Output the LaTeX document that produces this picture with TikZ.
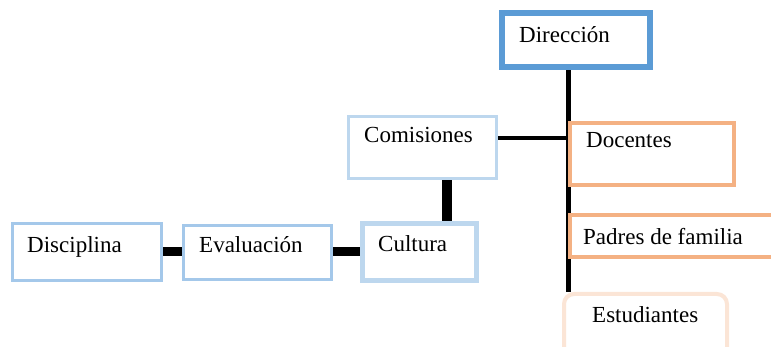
\documentclass[tikz,border=0pt]{standalone}
\usepackage{fontspec}
\setmainfont{Liberation Serif}
\usetikzlibrary{backgrounds}
\definecolor{dirblue}{HTML}{5B9BD5}
\definecolor{midblue}{HTML}{A4C8EA}
\definecolor{paleblue}{HTML}{BDD7EE}
\definecolor{orng}{HTML}{F4B183}
\definecolor{paleorng}{HTML}{FBE5D6}
\tikzset{
  box/.style={draw, fill=white, rectangle, inner sep=0pt},
  lbl/.style={anchor=base west, inner sep=0pt, font=\fontsize{23}{27}\selectfont},
  conn/.style={draw=black, line cap=butt},
}
\begin{document}
\begin{tikzpicture}[x=1pt,y=-1pt]
\useasboundingbox (0,0) rectangle (771,347);
% boxes
\node[box, draw=dirblue, line width=6pt, minimum width=148pt, minimum height=54pt] (dir) at (576,40) {};
\node[box, draw=orng, line width=4pt, minimum width=164pt, minimum height=62pt] (doc) at (652,154) {};
\node[box, draw=orng, line width=4pt, minimum width=220pt, minimum height=42pt] (pad) at (680,236) {};
\node[box, draw=paleorng, line width=4pt, rounded corners=10pt, minimum width=163pt, minimum height=66pt] (est) at (645.5,327) {};
\node[box, draw=paleblue, line width=3pt, minimum width=148pt, minimum height=62pt] (com) at (422.5,147.5) {};
\node[box, draw=midblue, line width=3pt, minimum width=149pt, minimum height=57pt] (dis) at (87,252.5) {};
\node[box, draw=midblue, line width=3pt, minimum width=148pt, minimum height=54pt] (eva) at (257.5,252.5) {};
\node[box, draw=paleblue, line width=5pt, minimum width=114pt, minimum height=57pt] (cul) at (419.5,252) {};
% texts
\node[lbl] (tdir) at (519,43) {Dirección};
\node[lbl] (tdoc) at (586,148) {Docentes};
\node[lbl] (tpad) at (583,245) {Padres de familia};
\node[lbl] (test) at (592,323) {Estudiantes};
\node[lbl] (tcom) at (364,143) {Comisiones};
\node[lbl] (tdis) at (27,253) {Disciplina};
\node[lbl] (teva) at (199,253) {Evaluación};
\node[lbl] (tcul) at (378,252) {Cultura};
% connectors
\begin{scope}[on background layer]
\draw[conn, line width=5pt] (dir.south -| doc.west) -- (est.north -| doc.west);
\coordinate (c1) at ([yshift=9.5pt]com.east);
\draw[conn, line width=3.5pt] (c1) -- (c1 -| doc.west);
\coordinate (c2) at ([xshift=24.5pt]com.south);
\draw[conn, line width=10pt] (c2) -- (c2 |- cul.north);
\coordinate (c3) at (eva.west |- 0,252);
\draw[conn, line width=9pt] (c3 -| dis.east) -- (c3);
\coordinate (c4) at (eva.east |- 0,252);
\draw[conn, line width=9pt] (c4) -- (c4 -| cul.west);
\end{scope}
\end{tikzpicture}
\end{document}
